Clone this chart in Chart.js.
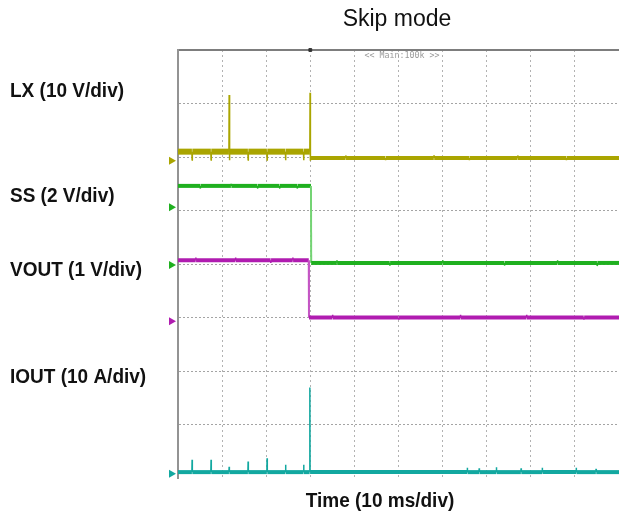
<!DOCTYPE html>
<html><head><meta charset="utf-8">
<script src="https://cdn.jsdelivr.net/npm/chart.js@4.4.0/dist/chart.umd.min.js"></script>
<style>html,body{margin:0;padding:0;background:#fff;overflow:hidden}canvas{display:block}</style>
</head><body>
<canvas id="c" width="619" height="515"></canvas>
<script>
// ---- texts ----
const titleText = 'Skip mode';
const channelNames = ['LX (10 V/div)', 'SS (2 V/div)', 'VOUT (1 V/div)', 'IOUT (10 A/div)'];
const xAxisLabel = 'Time (10 ms/div)';
const timebaseText = '<< Main:100k >>';

// ---- data: time in ms (10 ms/div), value in screen divisions (8 div tall) ----
const lxTime  = [0, 3.15,3.2,3.25, 7.45,7.5,7.55, 11.55,11.6,11.65,11.7,11.75, 15.85,15.9,15.95, 20.15,20.2,20.25, 24.35,24.4,24.45, 28.45,28.5,28.55, 29.9,29.95,30.0,30.05, 38,38.05,38.1, 47,47.05,47.1, 58,58.05,58.1, 66,66.05,66.1, 77,77.05,77.1, 88,88.05,88.1, 100];
const lxValue = [6.10, 6.10,5.94,6.10, 6.10,5.94,6.10, 6.10,7.16,6.10,5.94,6.10, 6.10,5.94,6.10, 6.10,5.94,6.10, 6.10,5.94,6.10, 6.10,5.94,6.10, 6.10,7.20,5.93,5.98, 5.98,6.03,5.98, 5.98,5.94,5.98, 5.98,6.03,5.98, 5.98,5.94,5.98, 5.98,6.03,5.98, 5.98,5.94,5.98, 5.98];

const ssTime  = [0, 5,5.05,5.1, 12,12.05,12.1, 18,18.05,18.1, 23,23.05,23.1, 27,27.05,27.1, 30.15,30.2, 36,36.05,36.1, 48,48.05,48.1, 60,60.05,60.1, 74,74.05,74.1, 86,86.05,86.1, 95,95.05,95.1, 100];
const ssValue = [5.46, 5.46,5.41,5.46, 5.46,5.50,5.46, 5.46,5.41,5.46, 5.46,5.41,5.46, 5.46,5.41,5.46, 5.46,4.02, 4.02,4.07,4.02, 4.02,3.97,4.02, 4.02,4.07,4.02, 4.02,3.97,4.02, 4.02,4.07,4.02, 4.02,3.97,4.02, 4.02];

const voutTime  = [0, 4,4.05,4.1, 13,13.05,13.1, 21,21.05,21.1, 26,26.05,26.1, 29.65,29.7, 35,35.05,35.1, 50,50.05,50.1, 64,64.05,64.1, 79,79.05,79.1, 92,92.05,92.1, 100];
const voutValue = [4.07, 4.07,4.12,4.07, 4.07,4.12,4.07, 4.07,4.02,4.07, 4.07,4.12,4.07, 4.07,3.00, 3.00,3.05,3.00, 3.00,2.96,3.00, 3.00,3.05,3.00, 3.00,3.05,3.00, 3.00,2.96,3.00, 3.00];

const ioutTime  = [0, 3.15,3.2,3.25, 7.45,7.5,7.55, 11.55,11.6,11.65, 15.85,15.9,15.95, 20.15,20.2,20.25, 24.35,24.4,24.45, 28.45,28.5,28.55, 29.85,29.9,29.95, 65.55,65.6,65.65, 68.25,68.3,68.35, 72.15,72.2,72.25, 77.75,77.8,77.85, 82.55,82.6,82.65, 90.25,90.3,90.35, 94.75,94.8,94.85, 100];
const ioutValue = [0.11, 0.11,0.34,0.11, 0.11,0.34,0.11, 0.11,0.21,0.11, 0.11,0.31,0.11, 0.11,0.37,0.11, 0.11,0.25,0.11, 0.11,0.25,0.11, 0.11,1.69,0.11, 0.11,0.19,0.11, 0.11,0.18,0.11, 0.11,0.20,0.11, 0.11,0.18,0.11, 0.11,0.19,0.11, 0.11,0.19,0.11, 0.11,0.17,0.11, 0.11];

// channel ground reference markers (divisions) and trigger time (ms)
const markerLevel = [5.93, 5.06, 3.98, 2.93, 0.08];
const triggerTime = [30.0];

// ---- styles ----
const COL = { lx:'#aaa500', ss:'#1fb01f', vout:'#b01cb0', iout:'#12a8a0' };
const LIGHT = { lx:'#c8c455', ss:'#74d474', vout:'#c455c4', iout:'#5cc4be' };
const markerColors = [COL.lx, COL.ss, COL.ss, COL.vout, COL.iout];

const pts = (t, v) => t.map((x, i) => ({ x, y: v[i] }));
const isFast = c => (c.p1.parsed.x - c.p0.parsed.x) < 0.3;
const isEdge = c => isFast(c) && Math.abs(c.p1.parsed.y - c.p0.parsed.y) > 0.5;
function trace(data, key, wBefore, wAfter, tSwitch, lightEdge) {
  return {
    data, borderColor: COL[key], borderWidth: wBefore, pointRadius: 0, tension: 0,
    borderJoinStyle: 'bevel', fill: false,
    segment: {
      borderWidth: c => isFast(c) ? (lightEdge && isEdge(c) ? 2 : 1.5) : (c.p0.parsed.x >= tSwitch ? wAfter : wBefore),
      borderColor: c => (lightEdge && isEdge(c)) ? LIGHT[key] : COL[key]
    }
  };
}

const markerPlugin = {
  id: 'groundMarkers',
  afterDatasetsDraw(chart) {
    const ctx = chart.ctx, ys = chart.scales.y, left = chart.chartArea.left;
    ctx.save();
    markerLevel.forEach((v, i) => {
      const y = ys.getPixelForValue(v);
      ctx.fillStyle = markerColors[i];
      ctx.beginPath();
      ctx.moveTo(left - 2, y);
      ctx.lineTo(left - 9, y - 4);
      ctx.lineTo(left - 9, y + 4);
      ctx.closePath();
      ctx.fill();
    });
    ctx.restore();
  }
};

const textPlugin = {
  id: 'texts',
  afterDraw(chart) {
    const ctx = chart.ctx;
    ctx.save();
    ctx.fillStyle = '#111';
    ctx.textBaseline = 'alphabetic';
    ctx.font = '23px "Liberation Sans", Arial, sans-serif';
    ctx.textAlign = 'center';
    ctx.fillText(titleText, 397, 26);

    const bold = 'bold 20px "Liberation Sans", Arial, sans-serif';
    const sx = 0.95;
    const labelBase = [97, 202, 276, 383];
    ctx.font = bold; ctx.textAlign = 'left';
    channelNames.forEach((s, i) => {
      ctx.save(); ctx.translate(10, labelBase[i]); ctx.scale(sx, 1); ctx.fillText(s, 0, 0); ctx.restore();
    });
    ctx.textAlign = 'center';
    ctx.save(); ctx.translate(380, 507); ctx.scale(sx, 1); ctx.fillText(xAxisLabel, 0, 0); ctx.restore();

    ctx.fillStyle = '#9a9a9a';
    ctx.font = '8.3px "DejaVu Sans Mono", monospace';
    ctx.textBaseline = 'middle';
    ctx.fillText(timebaseText, 402, 55.5);
    ctx.restore();
  }
};

const edgeHidden = (min, max, col) => c => (c.tick.value <= min || c.tick.value >= max) ? 'rgba(0,0,0,0)' : col;

new Chart(document.getElementById('c'), {
  type: 'line',
  data: {
    datasets: [
      trace(pts(ioutTime, ioutValue), 'iout', 4, 4, 1000, false),
      trace(pts(lxTime, lxValue), 'lx', 6, 4, 30, false),
      trace(pts(voutTime, voutValue), 'vout', 4, 4, 1000, true),
      trace(pts(ssTime, ssValue), 'ss', 4, 4, 1000, true),
      {
        data: triggerTime.map(t => ({ x: t, y: 8 })), showLine: false,
        pointStyle: 'rect', pointRadius: 2, pointBackgroundColor: '#333', pointBorderColor: '#333',
        clip: false
      }
    ]
  },
  options: {
    responsive: false, animation: false, devicePixelRatio: 1,
    layout: { autoPadding: false, padding: { left: 178, right: 0, top: 50, bottom: 37 } },
    plugins: { legend: { display: false }, tooltip: { enabled: false }, title: { display: false } },
    scales: {
      x: { type: 'linear', min: 0, max: 100,
           ticks: { display: false, stepSize: 10 },
           grid: { drawTicks: false, lineWidth: 1, color: edgeHidden(0, 100, '#b2b2b2') },
           border: { display: false, dash: [2, 3] } },
      xTop: { type: 'linear', position: 'top', min: 0, max: 100,
           ticks: { display: false }, grid: { display: false, drawTicks: false },
           border: { display: true, color: '#7d7d7d', width: 2 } },
      y: { type: 'linear', min: 0, max: 8,
           ticks: { display: false, stepSize: 1 },
           grid: { drawTicks: false, lineWidth: 1, color: edgeHidden(0, 8, '#a4a4a4') },
           border: { display: true, color: '#939393', width: 2, dash: [2, 2] } }
    }
  },
  plugins: [markerPlugin, textPlugin]
});
</script>
</body></html>
